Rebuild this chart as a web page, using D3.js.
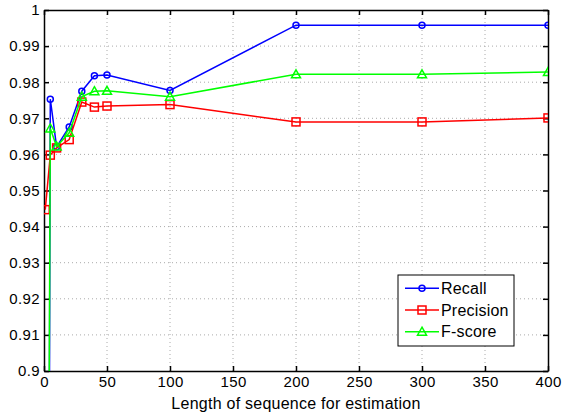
<!DOCTYPE html>
<html>
<head>
<meta charset="utf-8">
<script src="https://cdn.jsdelivr.net/npm/d3@7"></script>
<style>
  body { margin: 0; background: #fff; }
  text { font-family: "Liberation Sans", Arial, sans-serif; }
</style>
</head>
<body>
<svg id="chart" width="562" height="415"></svg>
<script>
"use strict"
// sequence lengths used for estimation
var lengths = [1, 5, 10, 20, 30, 40, 50, 100, 200, 300, 400];

// series (first recall / f-score points fall below the axis)
var recall    = [0.50, 0.9753, 0.9621, 0.9676, 0.9775, 0.9818, 0.9820, 0.9777, 0.9958, 0.9958, 0.9958];
var precision = [0.9447, 0.9598, 0.9618, 0.9641, 0.9745, 0.9731, 0.9734, 0.9738, 0.9690, 0.9690, 0.9701];
var fscore    = [0.65, 0.9672, 0.9622, 0.9660, 0.9760, 0.9775, 0.9776, 0.9760, 0.9822, 0.9822, 0.9828];

var xTicks = [0, 50, 100, 150, 200, 250, 300, 350, 400];
var yTicks = [0.9, 0.91, 0.92, 0.93, 0.94, 0.95, 0.96, 0.97, 0.98, 0.99, 1];

var seriesNames = ["Recall", "Precision", "F-score"];
var seriesColors = ["#0000ff", "#ff0000", "#00ff00"];
var seriesMarkers = ["circle", "square", "triangle"];

var padL = 44, padR = 548, padT = 10, padB = 371;

var svg = d3.select("#chart");

var x = d3.scaleLinear().domain([0, 400]).range([padL, padR]);
var y = d3.scaleLinear().domain([0.9, 1]).range([padB, padT]);

//grid
svg.append("g").selectAll("line.vg").data(xTicks.slice(1, -1)).enter().append("line")
    .attr("x1", function(d){ return x(d); }).attr("x2", function(d){ return x(d); })
    .attr("y1", padT).attr("y2", padB)
    .attr("stroke", "#aaa").attr("stroke-width", 1).attr("stroke-dasharray", "1,3");
svg.append("g").selectAll("line.hg").data(yTicks.slice(1, -1)).enter().append("line")
    .attr("y1", function(d){ return y(d); }).attr("y2", function(d){ return y(d); })
    .attr("x1", padL).attr("x2", padR)
    .attr("stroke", "#aaa").attr("stroke-width", 1).attr("stroke-dasharray", "1,3");

//axes
var xAxis = d3.axisBottom(x).tickValues(xTicks).tickSizeInner(-5).tickSizeOuter(0).tickPadding(5);
var yAxis = d3.axisLeft(y).tickValues(yTicks).tickSizeInner(-5).tickSizeOuter(0).tickPadding(4)
    .tickFormat(function(d){ return String(+d.toFixed(2)); });
var xTop = d3.axisTop(x).tickValues(xTicks).tickSizeInner(-5).tickSizeOuter(0).tickFormat("");
var yRight = d3.axisRight(y).tickValues(yTicks).tickSizeInner(-5).tickSizeOuter(0).tickFormat("");

svg.append("g").attr("transform", "translate(0," + padB + ")").call(xAxis);
svg.append("g").attr("transform", "translate(" + padL + ",0)").call(yAxis);
svg.append("g").attr("transform", "translate(0," + padT + ")").call(xTop);
svg.append("g").attr("transform", "translate(" + padR + ",0)").call(yRight);

svg.selectAll(".domain").attr("stroke", "#000").attr("stroke-width", 1.5);
svg.selectAll(".tick line").attr("stroke", "#000").attr("stroke-width", 1.5);
svg.selectAll(".tick text").attr("fill", "#000").style("font-size", "15px").style("letter-spacing", "0.4px")
    .style("font-family", "'Liberation Sans', Arial, sans-serif");

svg.append("text").attr("x", (padL + padR) / 2).attr("y", 409)
    .attr("text-anchor", "middle").style("font-size", "16px").style("letter-spacing", "0.25px")
    .text("Length of sequence for estimation");

//clip
svg.append("clipPath").attr("id", "plotclip").append("rect")
    .attr("x", padL).attr("y", padT).attr("width", padR - padL).attr("height", padB - padT);

var line = d3.line().x(function(d){ return x(d[0]); }).y(function(d){ return y(d[1]); });

function drawMarker(g, kind, cx, cy, color){
    if(kind === "circle"){
        g.append("circle").attr("cx", cx).attr("cy", cy).attr("r", 3)
            .attr("fill", "none").attr("stroke", color).attr("stroke-width", 1.5);
    }else if(kind === "square"){
        g.append("rect").attr("x", cx - 4).attr("y", cy - 4).attr("width", 8).attr("height", 8)
            .attr("fill", "none").attr("stroke", color).attr("stroke-width", 1.5);
    }else{
        g.append("path").attr("d", "M" + cx + "," + (cy - 4.5) + "L" + (cx + 4.5) + "," + (cy + 3.5) + "L" + (cx - 4.5) + "," + (cy + 3.5) + "Z")
            .attr("fill", "none").attr("stroke", color).attr("stroke-width", 1.5);
    }
}

var plot = svg.append("g").attr("clip-path", "url(#plotclip)");
var allSeries = [recall, precision, fscore];

allSeries.forEach(function(vals, k){
    var pts = lengths.map(function(l, i){ return [l, vals[i]]; });
    var g = plot.append("g");
    g.append("path").attr("d", line(pts)).attr("fill", "none")
        .attr("stroke", seriesColors[k]).attr("stroke-width", 1.5);
    pts.forEach(function(p){
        drawMarker(g, seriesMarkers[k], x(p[0]), y(p[1]), seriesColors[k]);
    });
});

//legend
var lg = svg.append("g");
lg.append("rect").attr("x", 398).attr("y", 275).attr("width", 116).attr("height", 71)
    .attr("fill", "#fff").attr("stroke", "#000").attr("stroke-width", 1);
seriesNames.forEach(function(name, k){
    var ly = 288.3 + k * 21.7;
    lg.append("line").attr("x1", 405).attr("x2", 439).attr("y1", ly).attr("y2", ly)
        .attr("stroke", seriesColors[k]).attr("stroke-width", 1.5);
    drawMarker(lg, seriesMarkers[k], 422, ly, seriesColors[k]);
    lg.append("text").attr("x", 441).attr("y", ly + 5.5).style("font-size", "16px").style("letter-spacing", "0.2px").text(name);
});
</script>
</body>
</html>
